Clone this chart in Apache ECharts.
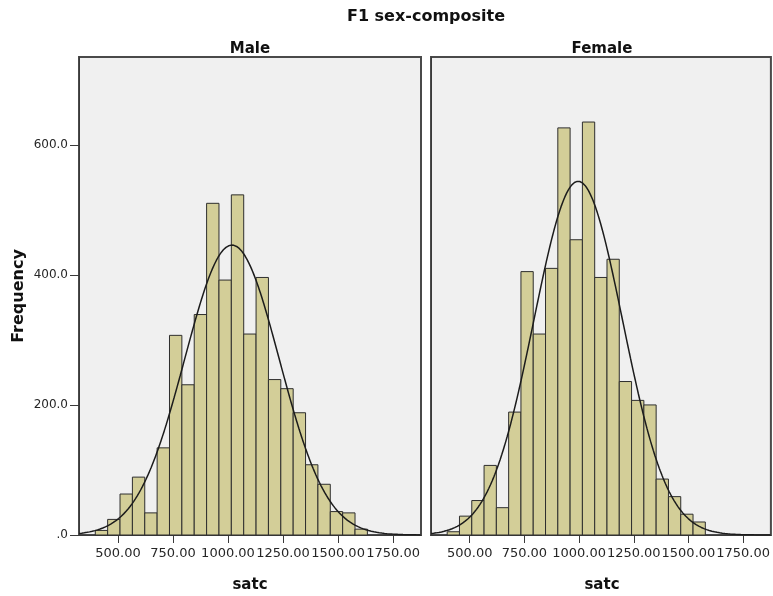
<!DOCTYPE html>
<html>
<head>
<meta charset="utf-8">
<script src="https://cdn.jsdelivr.net/npm/echarts@6/dist/echarts.min.js"></script>
<style>
  html, body { margin: 0; padding: 0; background: #ffffff; }
  #chart { width: 773px; height: 596px; }
</style>
</head>
<body>
<div id="chart"></div>
<script>
// Histogram bins (satc), shared by both panels
const binStart = 397;
const binWidth = 56.2;

// Frequencies per bin
const maleCounts = [7, 24, 63, 89, 34, 134, 307, 231, 339, 510, 392, 523, 309, 396, 239, 225, 188, 108, 78, 36, 34, 9];
const femaleCounts = [5, 29, 53, 107, 42, 189, 405, 309, 410, 626, 454, 635, 396, 424, 236, 207, 200, 86, 59, 32, 20];

// Normal fit parameters: [mean, std. deviation, N]
const maleFit = [1018, 215, 4275];
const femaleFit = [996, 203, 4924];

// Axis ticks
const xTicks = [500, 750, 1000, 1250, 1500, 1750];
const yTicks = [0, 200, 400, 600];
const xRange = [323, 1877];
const yRange = [0, 735];

const panelNames = ['Male', 'Female'];

function binData(counts) {
  return counts.map((c, i) => [binStart + i * binWidth, binStart + (i + 1) * binWidth, c]);
}

// Fitted normal curve scaled to counts per bin
function normalCurve(fit) {
  const [mean, sd, n] = fit;
  const pts = [];
  for (let x = xRange[0]; x <= xRange[1]; x += 4) {
    const z = (x - mean) / sd;
    pts.push([x, n * binWidth * Math.exp(-0.5 * z * z) / (sd * Math.sqrt(2 * Math.PI))]);
  }
  return pts;
}

const FONT = 'DejaVu Sans';
const grids = [
  { left: 79, top: 57, width: 342, height: 478 },
  { left: 431, top: 57, width: 342, height: 478 }
];

function renderBar(params, api) {
  const x0 = api.value(0), x1 = api.value(1), v = api.value(2);
  const p0 = api.coord([x0, v]);
  const p1 = api.coord([x1, 0]);
  return {
    type: 'rect',
    shape: { x: p0[0], y: p0[1], width: p1[0] - p0[0], height: p1[1] - p0[1] },
    style: { fill: '#D3CE98', stroke: '#2e2e2e', lineWidth: 1 }
  };
}

const chart = echarts.init(document.getElementById('chart'), null, { renderer: 'canvas' });

const option = {
  animation: false,
  backgroundColor: '#ffffff',
  grid: grids.map(g => Object.assign({
    show: true,
    backgroundColor: '#F0F0F0',
    borderColor: '#4a4a4a',
    borderWidth: 2,
    containLabel: false
  }, g)),
  xAxis: [0, 1].map(i => ({
    type: 'value',
    gridIndex: i,
    min: xRange[0],
    max: xRange[1],
    splitLine: { show: false },
    axisLine: { show: true, onZero: false, lineStyle: { color: '#3a3a3a', width: 1 } },
    axisTick: { show: true, customValues: xTicks, length: 8, lineStyle: { color: '#3a3a3a', width: 1 } },
    axisLabel: {
      customValues: xTicks,
      margin: 12,
      color: '#262626',
      fontFamily: FONT,
      fontSize: 13,
      formatter: v => v.toFixed(2)
    }
  })),
  yAxis: [0, 1].map(i => ({
    type: 'value',
    gridIndex: i,
    min: yRange[0],
    max: yRange[1],
    splitLine: { show: false },
    axisLine: { show: true, lineStyle: { color: '#3a3a3a', width: 1 } },
    axisTick: { show: i === 0, customValues: yTicks, length: 9, lineStyle: { color: '#3a3a3a', width: 1 } },
    axisLabel: {
      show: i === 0,
      customValues: yTicks,
      margin: 11,
      color: '#262626',
      fontFamily: FONT,
      fontSize: 12,
      formatter: v => (v === 0 ? '.0' : v.toFixed(1))
    }
  })),
  series: [
    { type: 'custom', xAxisIndex: 0, yAxisIndex: 0, renderItem: renderBar, encode: { x: [0, 1], y: 2 }, data: binData(maleCounts), z: 2 },
    { type: 'custom', xAxisIndex: 1, yAxisIndex: 1, renderItem: renderBar, encode: { x: [0, 1], y: 2 }, data: binData(femaleCounts), z: 2 },
    { type: 'line', xAxisIndex: 0, yAxisIndex: 0, data: normalCurve(maleFit), showSymbol: false, smooth: false, clip: true,
      lineStyle: { color: '#1c1c1c', width: 1.5 }, z: 3 },
    { type: 'line', xAxisIndex: 1, yAxisIndex: 1, data: normalCurve(femaleFit), showSymbol: false, smooth: false, clip: true,
      lineStyle: { color: '#1c1c1c', width: 1.5 }, z: 3 }
  ],
  graphic: [
    { type: 'text', x: 426, y: 17, style: { text: 'F1 sex-composite', font: 'bold 16px "DejaVu Sans"', fill: '#111', align: 'center', verticalAlign: 'middle' } },
    { type: 'text', x: 250, y: 49, style: { text: panelNames[0], font: 'bold 15px "DejaVu Sans"', fill: '#111', align: 'center', verticalAlign: 'middle' } },
    { type: 'text', x: 602, y: 49, style: { text: panelNames[1], font: 'bold 15px "DejaVu Sans"', fill: '#111', align: 'center', verticalAlign: 'middle' } },
    { type: 'text', x: 250, y: 585, style: { text: 'satc', font: 'bold 15px "DejaVu Sans"', fill: '#111', align: 'center', verticalAlign: 'middle' } },
    { type: 'text', x: 602, y: 585, style: { text: 'satc', font: 'bold 15px "DejaVu Sans"', fill: '#111', align: 'center', verticalAlign: 'middle' } },
    { type: 'text', x: 19, y: 296, rotation: Math.PI / 2, style: { text: 'Frequency', font: 'bold 16px "DejaVu Sans"', fill: '#111', align: 'center', verticalAlign: 'middle' } }
  ]
};

chart.setOption(option);
</script>
</body>
</html>
